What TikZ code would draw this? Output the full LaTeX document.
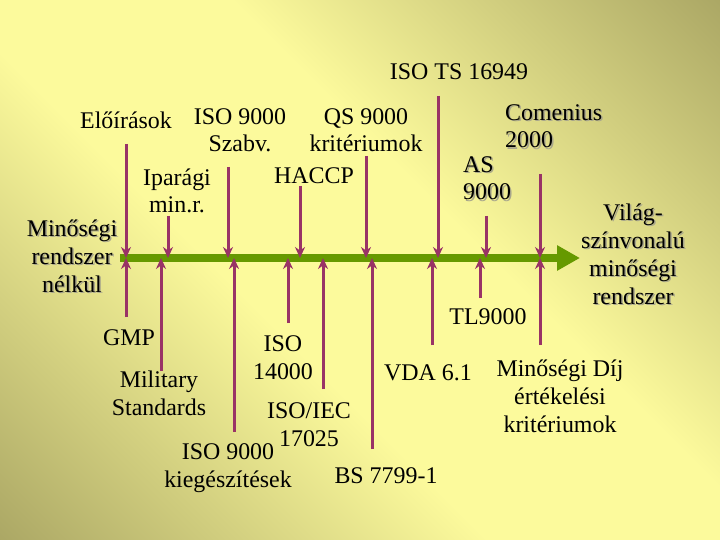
\documentclass[tikz,border=0pt]{standalone}
\usepackage{fontspec}
\setmainfont{Liberation Serif}
\usetikzlibrary{arrows.meta}

\definecolor{maroon}{RGB}{153,51,102}
\definecolor{axisgreen}{RGB}{102,153,0}
\definecolor{paleyellow}{RGB}{252,250,156}
\definecolor{olivedark}{RGB}{170,166,100}
\definecolor{shadowgray}{RGB}{168,166,140}

\pgfdeclarehorizontalshading{slidebg}{100bp}{color(0bp)=(olivedark); color(14bp)=(olivedark); color(42bp)=(paleyellow); color(58bp)=(paleyellow); color(86bp)=(olivedark); color(100bp)=(olivedark)}

\newcommand{\shd}[1]{\rlap{\kern1.5pt\raisebox{-1.5pt}{\color{shadowgray}#1}}#1}

\tikzset{
  lbl/.style={font=\fontsize{24}{28}\selectfont, align=center, anchor=base, inner sep=0pt},
  lbll/.style={lbl, align=left, anchor=base west},
  feed/.style={maroon, line width=3bp, -{Stealth[length=11bp,width=10bp]}},
}

\begin{document}
\begin{tikzpicture}[x=1bp,y=-1bp]
        \useasboundingbox (0,0) rectangle (720,540);
        \shade[shading=slidebg, shading angle=45] (0,0) rectangle (720,540);   % slide background

        \coordinate (axisL) at (120,258);
        \coordinate (axisR) at (580,258);
        \draw[axisgreen, line width=8bp, -{Triangle[length=23bp,width=24bp]}] (axisL) -- (axisR);   % time line

        % from above
        \coordinate (eloiras) at (126,144);
        \coordinate (ipar) at (168,216);
        \coordinate (szabv) at (228,167);
        \coordinate (haccp) at (300,186);
        \coordinate (qs) at (366,156);
        \coordinate (ts) at (438,96);
        \coordinate (as) at (486,216);
        \coordinate (comenius) at (540,174);

        \draw[feed] (eloiras) -- (eloiras |- axisL);
        \draw[feed] (ipar) -- (ipar |- axisL);
        \draw[feed] (szabv) -- (szabv |- axisL);
        \draw[feed] (haccp) -- (haccp |- axisL);
        \draw[feed] (qs) -- (qs |- axisL);
        \draw[feed] (ts) -- (ts |- axisL);
        \draw[feed] (as) -- (as |- axisL);
        \draw[feed] (comenius) -- (comenius |- axisL);

        % from below
        \coordinate (gmp) at (126,317);
        \coordinate (military) at (161,371);
        \coordinate (kieg) at (234,432);
        \coordinate (iso14) at (288,323);
        \coordinate (isoiec) at (323,389);
        \coordinate (bs) at (372,449);
        \coordinate (vda) at (432,345);
        \coordinate (tl) at (480,298);
        \coordinate (dij) at (540,345);

        \draw[feed] (gmp) -- (gmp |- axisL);
        \draw[feed] (military) -- (military |- axisL);
        \draw[feed] (kieg) -- (kieg |- axisL);
        \draw[feed] (iso14) -- (iso14 |- axisL);
        \draw[feed] (isoiec) -- (isoiec |- axisL);
        \draw[feed] (bs) -- (bs |- axisL);
        \draw[feed] (vda) -- (vda |- axisL);
        \draw[feed] (tl) -- (tl |- axisL);
        \draw[feed] (dij) -- (dij |- axisL);

        % labels (base = last line)
        \node[lbl] (tsLbl) at (459,80) {ISO TS 16949};
        \node[lbl] (eloirasLbl) at (126,129) {Előírások};
        \node[lbl] (szabvLbl) at (240,152) {ISO 9000\\Szabv.};
        \node[lbl] (qsLbl) at (366,152) {QS 9000\\kritériumok};
        \node[lbl] (iparLbl) at (177,213) {Iparági\\min.r.};
        \node[lbl] (haccpLbl) at (314,184) {HACCP};
        \node[lbll] (comeniusLbl) at (505,148) {\shd{Comenius}\\\shd{2000}};
        \node[lbll] (asLbl) at (463,200) {\shd{AS}\\\shd{9000}};
        \node[lbl] (vilagLbl) at (633,304) {\shd{Világ-}\\\shd{színvonalú}\\\shd{minőségi}\\\shd{rendszer}};
        \node[lbl] (nelkulLbl) at (72,292) {\shd{Minőségi}\\\shd{rendszer}\\\shd{nélkül}};

        \node[lbl] (gmpLbl) at (129,345) {GMP};
        \node[lbl] (militaryLbl) at (159,415) {Military\\Standards};
        \node[lbl] (kiegLbl) at (228,487) {ISO 9000\\kiegészítések};
        \node[lbl] (iso14Lbl) at (283,379) {ISO\\14000};
        \node[lbl] (isoiecLbl) at (309,446) {ISO/IEC\\17025};
        \node[lbl] (bsLbl) at (386,483) {BS 7799-1};
        \node[lbl] (vdaLbl) at (428,380) {VDA 6.1};
        \node[lbl] (tlLbl) at (488,324) {TL9000};
        \node[lbl] (dijLbl) at (560,432) {Minőségi Díj\\értékelési\\kritériumok};
\end{tikzpicture}
\end{document}
